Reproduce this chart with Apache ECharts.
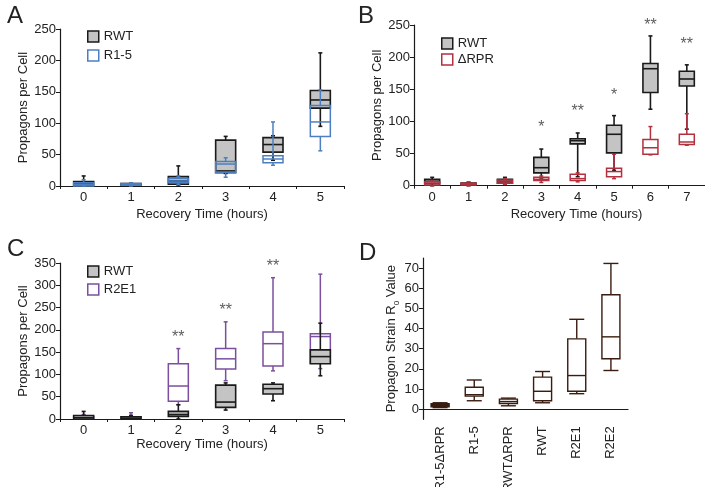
<!DOCTYPE html>
<html><head><meta charset="utf-8">
<script src="https://cdn.jsdelivr.net/npm/echarts@6/dist/echarts.min.js"></script>
<style>html,body{margin:0;padding:0;background:#fff}#c{width:705px;height:487px}</style>
</head><body><div id="c"></div>
<script>
// ---------- DATA ----------
// Each box: [min, Q1, median, Q3, max]
const hoursA = ['0','1','2','3','4','5'];
const A_RWT = [[0,0,3,7,16],[0,0,2,4,5],[0,3,8,15,32],[20,21,24,73,79],[41,54,66,77,80],[95,124,137,152,212]];
const A_R15 = [[0,0,2,5,10],[0,1,2,4,5],[2,5,8,12,16],[14,22,35,39,45],[33,37,43,48,102],[56,79,102,128,153]];

const hoursB = ['0','1','2','3','4','5','6','7'];
const B_RWT = [[0,3,7,10,13],[0,1,2,4,5],[2,4,7,10,13],[12,20,28,44,57],[14,65,70,73,82],[24,51,80,94,109],[119,145,182,190,233],[88,155,166,178,188]];
const B_dRPR = [[0,1,4,6,8],[0,1,2,4,6],[2,4,6,9,11],[5,8,10,13,15],[6,8,11,18,20],[11,14,22,27,49],[48,49,59,72,92],[63,64,68,80,112]];
const B_stars = [['3',96,'*'],['4',121,'**'],['5',146,'*'],['6',255,'**'],['7',225,'**']];

const hoursC = ['0','1','2','3','4','5'];
const C_RWT = [[0,0,3,8,17],[0,0,2,5,8],[0,6,10,17,32],[20,26,38,76,81],[41,56,68,78,81],[97,124,140,155,215]];
const C_R2E1 = [[0,1,3,5,10],[0,1,3,5,14],[32,40,74,124,158],[86,112,135,158,218],[108,119,169,195,317],[113,125,185,191,325]];
const C_stars = [['2',191,'**'],['3',253,'**'],['4',352,'**']];

const strainsD = ['R1-5ΔRPR','R1-5','RWTΔRPR','RWT','R2E1','R2E2'];
const D_R0 = [[0.8,1.2,2,2.7,3.2],[4.2,6.5,7.2,10.9,14.5],[1.7,2.8,3.8,5,5.5],[3.2,4.2,8.9,15.9,18.7],[7.7,8.9,16.7,34.9,44.6],[19.2,25,35.9,56.8,72.3]];
const D_fill = ['#3a1c10','#fff','#fff','#fff','#fff','#fff'];

// ---------- STYLE ----------
const FONT = 'Liberation Sans, Arial, sans-serif';
const TXT = '#222';
const GRAY = '#c4c4c4', BLACK = '#1a1a1a', BLUE = '#4d7fc0', RED = '#b3303f', PURPLE = '#7b4f9f', BROWN = '#3a1c10';

function rows(cats, arr){ return arr.map((b,i)=>[cats[i]].concat(b)); }

function boxRender(o){
  return function(params, api){
    const x = api.value(0);
    const v = [1,2,3,4,5].map(i=>api.value(i));
    const p = v.map(val=>api.coord([x,val]));
    const cx = p[0][0], h = o.w/2, c = o.cap/2;
    const fill = o.fills ? o.fills[params.dataIndex] : o.fill;
    const st = {stroke:o.stroke, lineWidth:o.lw, fill:null};
    return {type:'group', children:[
      {type:'line', shape:{x1:cx,y1:p[0][1],x2:cx,y2:p[1][1]}, style:st},
      {type:'line', shape:{x1:cx,y1:p[3][1],x2:cx,y2:p[4][1]}, style:st},
      {type:'line', shape:{x1:cx-c,y1:p[0][1],x2:cx+c,y2:p[0][1]}, style:st},
      {type:'line', shape:{x1:cx-c,y1:p[4][1],x2:cx+c,y2:p[4][1]}, style:st},
      {type:'rect', shape:{x:cx-h,y:p[3][1],width:o.w,height:p[1][1]-p[3][1]}, style:{stroke:o.stroke,lineWidth:o.lw,fill:fill}},
      {type:'line', shape:{x1:cx-h,y1:p[2][1],x2:cx+h,y2:p[2][1]}, style:st}
    ]};
  };
}
function boxSeries(name, gi, cats, arr, o){
  return {type:'custom', name:name, xAxisIndex:gi, yAxisIndex:gi, data:rows(cats,arr),
    encode:{x:0, y:[1,2,3,4,5]}, renderItem:boxRender(o), clip:false, z:o.z||2};
}
function starSeries(gi, arr){
  return {type:'scatter', xAxisIndex:gi, yAxisIndex:gi, symbol:'circle', symbolSize:1, clip:false,
    itemStyle:{color:'rgba(0,0,0,0)'}, silent:true, z:5,
    data:arr.map(s=>[s[0],s[1],s[2]]),
    label:{show:true, position:'inside', offset:[0,4], formatter:p=>p.value[2], fontSize:16, color:'#333', fontFamily:FONT}};
}
function catAxis(gi, cats, extra){
  return Object.assign({type:'category', gridIndex:gi, data:cats, boundaryGap:true,
    axisLine:{lineStyle:{color:BLACK, width:1.2}}, axisTick:{show:true, length:3, lineStyle:{color:BLACK}},
    axisLabel:{color:TXT, fontSize:13, fontFamily:FONT, margin:5},
    nameLocation:'middle', nameTextStyle:{color:TXT, fontSize:13, fontFamily:FONT}}, extra||{});
}
function valAxis(gi, min, max, interval, extra){
  return Object.assign({type:'value', gridIndex:gi, min:min, max:max, interval:interval,
    splitLine:{show:false}, axisLine:{show:true, lineStyle:{color:BLACK, width:1.2}},
    axisTick:{show:true, length:4, lineStyle:{color:BLACK}},
    axisLabel:{color:TXT, fontSize:13, fontFamily:FONT, margin:4},
    nameLocation:'middle', nameTextStyle:{color:TXT, fontSize:13, fontFamily:FONT}}, extra||{});
}
function legendItem(name, fill, border){ return {name:name, itemStyle:{color:fill, borderColor:border, borderWidth:1.5}}; }
function grid(l,t,w,h){ return {left:l, top:t, width:w, height:h, containLabel:false, outerBoundsMode:'none'}; }

const chart = echarts.init(document.getElementById('c'), null, {renderer:'canvas'});
const option = {
  animation:false,
  backgroundColor:'#fff',
  textStyle:{fontFamily:FONT},
  title:[
    {text:'A', left:2, top:-1, textStyle:{fontSize:24, fontWeight:'normal', color:TXT, fontFamily:FONT}},
    {text:'B', left:353, top:-1, textStyle:{fontSize:24, fontWeight:'normal', color:TXT, fontFamily:FONT}},
    {text:'C', left:2, top:232, textStyle:{fontSize:24, fontWeight:'normal', color:TXT, fontFamily:FONT}},
    {text:'D', left:354, top:236, textStyle:{fontSize:24, fontWeight:'normal', color:TXT, fontFamily:FONT}}
  ],
  grid:[
    grid(60, 29, 284, 157),
    grid(414, 25, 291, 160.7),
    grid(60, 263, 284, 156),
    grid(423, 258, 205, 161.3),
    grid(423, 268.1, 205, 141.1)
  ],
  legend:[
    {orient:'vertical', left:82, top:25, itemWidth:11, itemHeight:11, itemGap:6, icon:'rect',
      textStyle:{fontSize:13, color:TXT, fontFamily:FONT},
      data:[legendItem('RWT',GRAY,BLACK), legendItem('R1-5','#fff',BLUE)]},
    {orient:'vertical', left:436, top:32, itemWidth:11, itemHeight:11, itemGap:3, icon:'rect',
      textStyle:{fontSize:13, color:TXT, fontFamily:FONT},
      data:[legendItem('RWT ',GRAY,BLACK), legendItem('ΔRPR','#fff',RED)]},
    {orient:'vertical', left:82, top:260, itemWidth:11, itemHeight:11, itemGap:5, icon:'rect',
      textStyle:{fontSize:13, color:TXT, fontFamily:FONT},
      data:[legendItem('RWT  ',GRAY,BLACK), legendItem('R2E1','#fff',PURPLE)]}
  ],
  xAxis:[
    catAxis(0, hoursA, {name:'Recovery Time (hours)', nameGap:22}),
    catAxis(1, hoursB, {name:'Recovery Time (hours)', nameGap:22, nameTextStyle:{color:TXT, fontSize:13, fontFamily:FONT, padding:[0,0,0,34]}}),
    catAxis(2, hoursC, {name:'Recovery Time (hours)', nameGap:17}),
    catAxis(3, strainsD, {axisTick:{show:false}, axisLabel:{color:TXT, fontSize:13, fontFamily:FONT, rotate:90, margin:7}}),
    catAxis(4, strainsD, {show:false})
  ],
  yAxis:[
    valAxis(0, 0, 250, 50, {name:'Propagons per Cell', nameGap:30}),
    valAxis(1, 0, 250, 50, {name:'Propagons per Cell', nameGap:29}),
    valAxis(2, 0, 350, 50, {name:'Propagons per Cell', nameGap:26}),
    valAxis(3, -5, 75, 5, {axisTick:{show:false}, axisLabel:{show:false}}),
    valAxis(4, 0, 70, 10, {axisLine:{show:false},
      name:'{n|Propagon Strain R}{s|0}{n| Value}', nameGap:19,
      nameTextStyle:{color:TXT, fontFamily:FONT, rich:{n:{fontSize:13, lineHeight:18, color:TXT, fontFamily:FONT}, s:{fontSize:8, verticalAlign:'bottom', lineHeight:18, color:TXT, fontFamily:FONT}}}})
  ],
  series:[
    boxSeries('RWT', 0, hoursA, A_RWT, {w:20, cap:4, stroke:BLACK, lw:1.6, fill:GRAY}),
    boxSeries('R1-5', 0, hoursA, A_R15, {w:20, cap:4, stroke:BLUE, lw:1.5, fill:'rgba(0,0,0,0)', z:3}),
    boxSeries('RWT ', 1, hoursB, B_RWT, {w:15, cap:4, stroke:BLACK, lw:1.6, fill:GRAY}),
    boxSeries('ΔRPR', 1, hoursB, B_dRPR, {w:15, cap:4, stroke:RED, lw:1.5, fill:'rgba(0,0,0,0)', z:3}),
    starSeries(1, B_stars),
    boxSeries('R2E1', 2, hoursC, C_R2E1, {w:20, cap:4, stroke:PURPLE, lw:1.5, fill:'rgba(0,0,0,0)'}),
    boxSeries('RWT  ', 2, hoursC, C_RWT, {w:20, cap:4, stroke:BLACK, lw:1.6, fill:GRAY, z:3}),
    starSeries(2, C_stars),
    boxSeries('R0', 3, strainsD, D_R0, {w:18, cap:15, stroke:BROWN, lw:1.4, fills:D_fill})
  ]
};
chart.setOption(option);
</script></body></html>
